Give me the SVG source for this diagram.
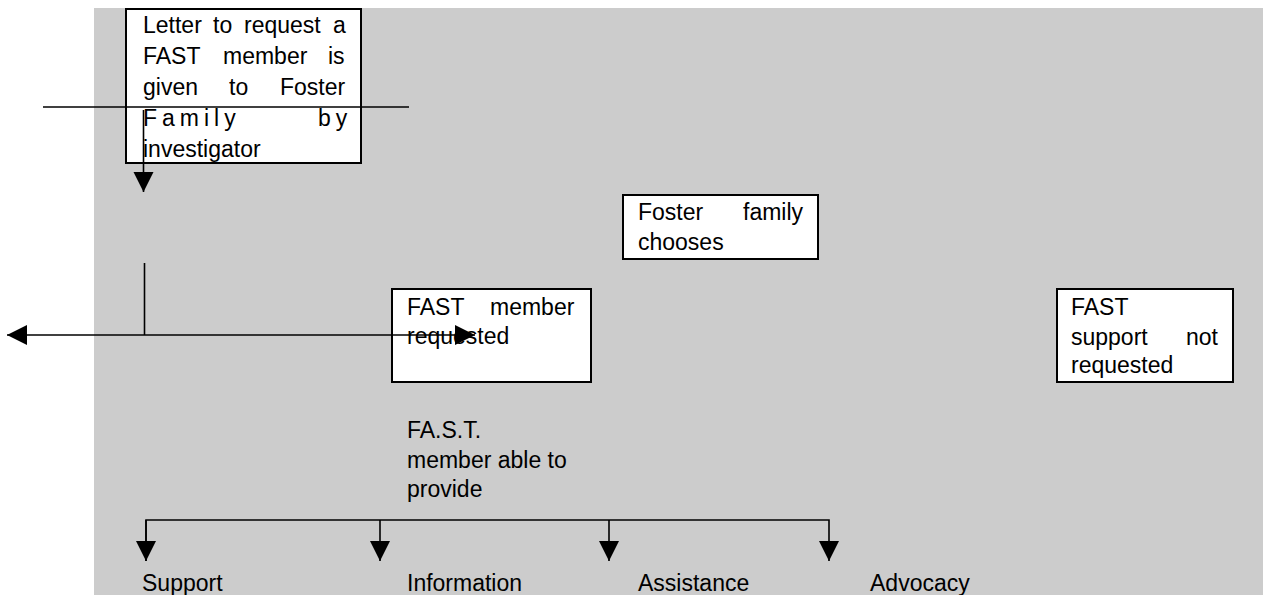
<svg xmlns="http://www.w3.org/2000/svg" width="1263" height="595" viewBox="0 0 1263 595">
  <style>
    .box { fill: #ffffff; stroke: #000000; stroke-width: 2; }
    .lbl { font-family: "Liberation Sans", Arial, sans-serif; font-size: 23px; fill: #000000; }
    .wire { fill: none; stroke: #000000; stroke-width: 1.6; }
  </style>
  <defs>
    <marker id="arrow" markerUnits="userSpaceOnUse" markerWidth="21" markerHeight="21" refX="20" refY="10" orient="auto-start-reverse">
      <path d="M0,0 L20,10 L0,20 Z" fill="#000000"/>
    </marker>
  </defs>

  <!-- panel background -->
  <rect x="94" y="8" width="1169" height="587" fill="#cccccc"/>

  <!-- letter to the foster family -->
  <g id="node-letter">
    <rect class="box" x="126" y="9" width="235" height="154"/>
    <text class="lbl" y="33"><tspan x="143">Letter</tspan><tspan x="213">to</tspan><tspan x="244">request</tspan><tspan x="333">a</tspan></text>
    <text class="lbl" y="64"><tspan x="143">FAST</tspan><tspan x="223">member</tspan><tspan x="328">is</tspan></text>
    <text class="lbl" y="95"><tspan x="143">given</tspan><tspan x="229">to</tspan><tspan x="280">Foster</tspan></text>
    <text class="lbl" y="126" letter-spacing="5"><tspan x="143">Family</tspan><tspan x="318">by</tspan></text>
    <text class="lbl" x="143" y="157">investigator</text>
  </g>

  <!-- decision -->
  <g id="node-chooses">
    <rect class="box" x="623" y="195" width="195" height="64"/>
    <text class="lbl" y="220"><tspan x="638">Foster</tspan><tspan x="743">family</tspan></text>
    <text class="lbl" x="638" y="250">chooses</text>
  </g>

  <g id="node-requested">
    <rect class="box" x="392" y="289" width="199" height="93"/>
    <text class="lbl" y="315"><tspan x="407">FAST</tspan><tspan x="490">member</tspan></text>
    <text class="lbl" x="407" y="344">requested</text>
  </g>

  <g id="node-not-requested">
    <rect class="box" x="1057" y="289" width="176" height="93"/>
    <text class="lbl" x="1071" y="315">FAST</text>
    <text class="lbl" y="345"><tspan x="1071">support</tspan><tspan x="1186">not</tspan></text>
    <text class="lbl" x="1071" y="373">requested</text>
  </g>

  <g id="node-able">
    <text class="lbl" x="407" y="438">FA.S.T.</text>
    <text class="lbl" x="407" y="468">member able to</text>
    <text class="lbl" x="407" y="497">provide</text>
  </g>

  <g id="node-support"><text class="lbl" x="142" y="591">Support</text></g>
  <g id="node-information"><text class="lbl" x="407" y="591">Information</text></g>
  <g id="node-assistance"><text class="lbl" x="638" y="591">Assistance</text></g>
  <g id="node-advocacy"><text class="lbl" x="870" y="591">Advocacy</text></g>

  <!-- connectors -->
  <g id="connectors">
    <line class="wire" x1="43" y1="107" x2="409" y2="107"/>
    <line class="wire" x1="143.5" y1="110" x2="143.5" y2="192" marker-end="url(#arrow)"/>
    <line class="wire" x1="144.5" y1="263" x2="144.5" y2="335"/>
    <line class="wire" x1="7" y1="335" x2="475" y2="335" marker-start="url(#arrow)" marker-end="url(#arrow)"/>
    <polyline class="wire" points="146,561 146,520 829,520 829,561" marker-end="url(#arrow)"/>
    <line class="wire" x1="146" y1="520" x2="146" y2="561" marker-end="url(#arrow)"/>
    <line class="wire" x1="380" y1="520" x2="380" y2="561" marker-end="url(#arrow)"/>
    <line class="wire" x1="609" y1="520" x2="609" y2="561" marker-end="url(#arrow)"/>
  </g>
</svg>
